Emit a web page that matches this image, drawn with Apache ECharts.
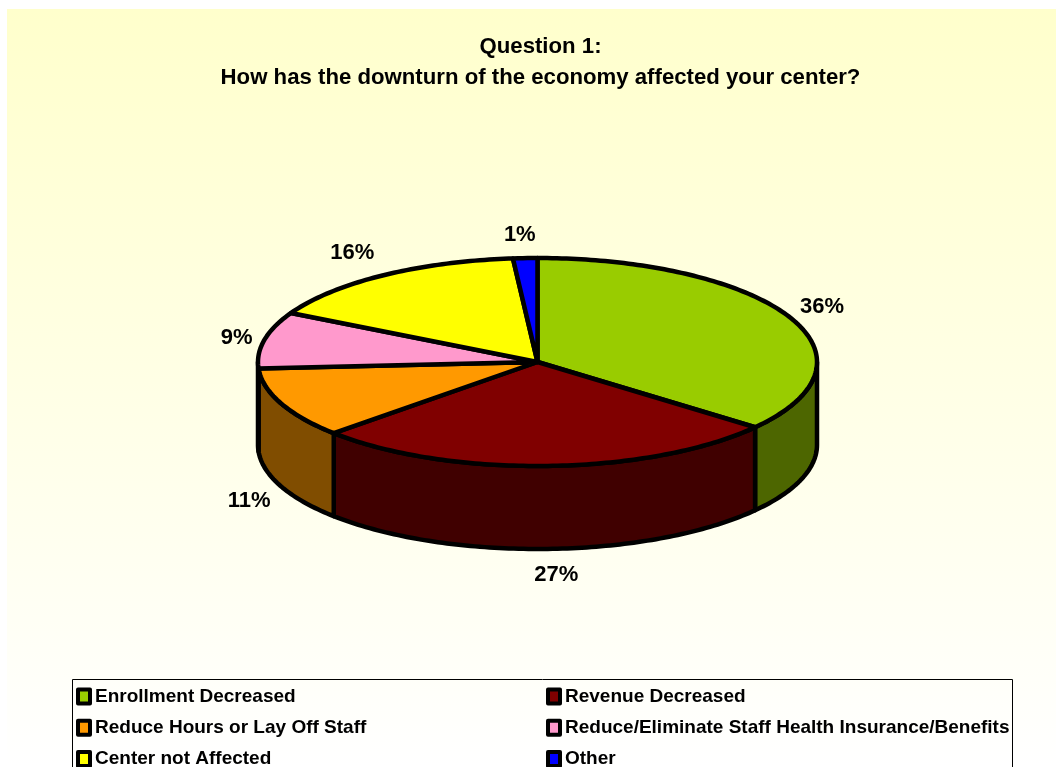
<!DOCTYPE html>
<html><head><meta charset="utf-8">
<style>html,body{margin:0;padding:0;background:#fff}#c{width:1060px;height:767px}</style>
<script src="https://cdn.jsdelivr.net/npm/echarts@6/dist/echarts.min.js"></script>
</head><body><div id="c"></div>
<script>
const categories = ['Enrollment Decreased','Revenue Decreased','Reduce Hours or Lay Off Staff','Reduce/Eliminate Staff Health Insurance/Benefits','Center not Affected','Other'];
const shares = [35.8, 27.2, 11, 8.8, 15.8, 1.4];
const topColors = ['#99CC00','#800000','#FF9900','#FF99CC','#FFFF00','#0000FF'];
const wallColors = ['#4D6600','#400000','#804D00','#804D66','#808000','#000080'];
const titleLines = ['Question 1:','How has the downturn of the economy affected your center?'];

const FONT = '"Liberation Sans", Arial, sans-serif';
const CX = 537.5, CY = 362, RX = 279.5, RY = 104, DEPTH = 83;
const LABEL_RX = 312, LABEL_RY = 128;
const labelNudge = [[3,0],[7,2],[-2,5],[4,3],[-13,-2],[-4,1]];
const total = shares.reduce((a,b)=>a+b,0);
const pt = (deg, dy) => {
  const r = deg*Math.PI/180;
  return [CX + RX*Math.sin(r), CY - RY*Math.cos(r) + (dy||0)];
};
function sliceRender(i){
  return function(params, api){
    const start = api.value(0)/total*360, end = (api.value(0)+api.value(1))/total*360;
    const top = [[CX,CY]];
    for(let a=start;a<end;a+=1) top.push(pt(a));
    top.push(pt(end));
    const children = [];
    const ws = Math.max(start,90), we = Math.min(end,270);
    if(we>ws){
      const upper=[], lower=[];
      for(let a=ws;a<we;a+=1){upper.push(pt(a));lower.push(pt(a,DEPTH));}
      upper.push(pt(we));lower.push(pt(we,DEPTH));
      children.push({type:'polygon',shape:{points:upper.concat(lower.reverse())},
        style:{fill:wallColors[i],stroke:'#000',lineWidth:4.5,lineJoin:'round'}});
    }
    children.push({type:'polygon',shape:{points:top},
      style:{fill:topColors[i],stroke:'#000',lineWidth:4.5,lineJoin:'round'}});
    const mid=(start+end)/2*Math.PI/180;
    const lx=CX+LABEL_RX*Math.sin(mid)+labelNudge[i][0];
    const ly=CY-LABEL_RY*Math.cos(mid)+(Math.cos(mid)<0?DEPTH:0)+labelNudge[i][1];
    children.push({type:'text',style:{x:lx,y:ly,text:Math.round(api.value(1))+'%',
      font:'bold 22px '+FONT,fill:'#000',align:'center',verticalAlign:'middle'}});
    return {type:'group',children};
  };
}
let acc=0;
const series = categories.map((name,i)=>{
  const s={type:'custom',name,coordinateSystem:'none',silent:true,animation:false,z:i===5?3:2,
    itemStyle:{color:topColors[i]},
    renderItem:sliceRender(i),data:[[acc,shares[i]]]};
  acc+=shares[i];
  return s;
});
const legendBase={orient:'vertical',padding:0,itemGap:12.25,itemWidth:12,itemHeight:14,height:110,width:480,selectedMode:false,
  icon:'rect',itemStyle:{borderColor:'#000',borderWidth:4,borderJoin:'round'},
  textStyle:{fontFamily:FONT,fontWeight:'bold',fontSize:19,lineHeight:18,color:'#000',padding:[0,0,0,0]}};
const chart=echarts.init(document.getElementById('c'),null,{renderer:'canvas'});
chart.setOption({
  animation:false,
  backgroundColor:'#fff',
  title:{text:titleLines.join('\n'),left:535.5,top:26,textAlign:'center',
    textStyle:{fontFamily:FONT,fontWeight:'bold',fontSize:22.2,lineHeight:31,color:'#000'}},
  graphic:[
    {type:'rect',z:-10,silent:true,shape:{x:7,y:9,width:1049,height:758},
      style:{fill:new echarts.graphic.LinearGradient(0,0,0,1,[{offset:0,color:'#FFFFCC'},{offset:1,color:'#FFFFFF'}])}},
    {type:'rect',z:-5,silent:true,shape:{x:72.5,y:679.5,width:940,height:90},style:{fill:'transparent',stroke:'#000',lineWidth:1}}
  ],
  legend:[
    Object.assign({},legendBase,{left:76,top:687,data:[categories[0],categories[2],categories[4]]}),
    Object.assign({},legendBase,{left:546,top:687,data:[categories[1],categories[3],categories[5]]})
  ],
  series
});
</script></body></html>
